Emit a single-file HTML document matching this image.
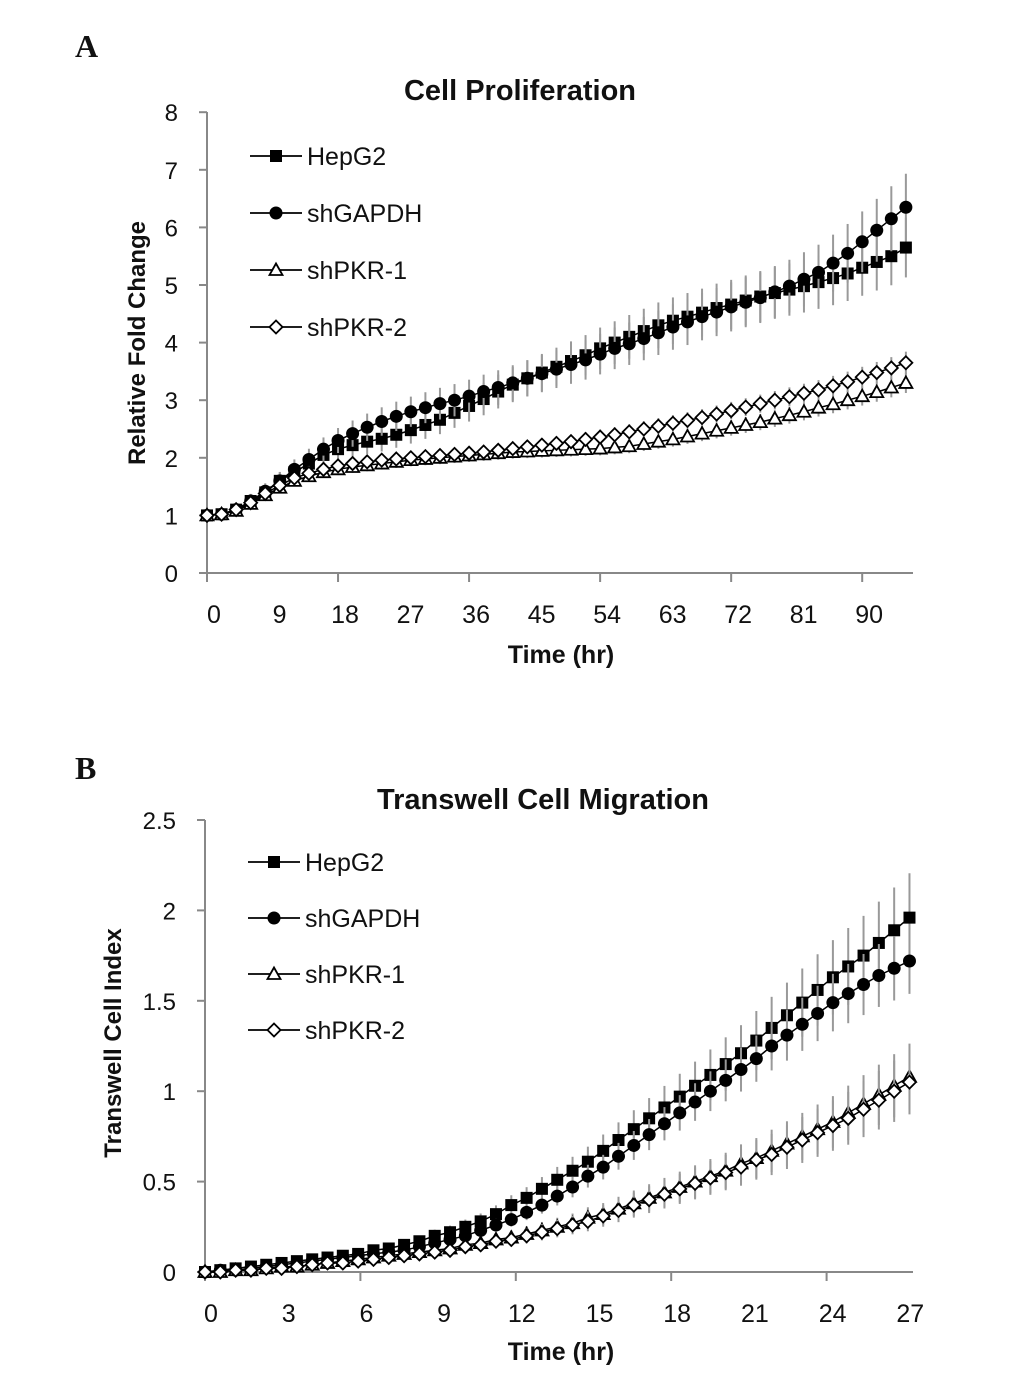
<!DOCTYPE html>
<html><head><meta charset="utf-8"><style>
body{margin:0;background:#fff}
svg text{font-family:"Liberation Sans",sans-serif;fill:#111}
</style></head><body>
<svg id="s" width="1033" height="1391" xmlns="http://www.w3.org/2000/svg">
<text x="75" y="57" style="font-family:'Liberation Serif',serif;font-weight:bold;font-size:32px">A</text>
<text x="75" y="779" style="font-family:'Liberation Serif',serif;font-weight:bold;font-size:32px">B</text>
<text x="520" y="100" text-anchor="middle" font-weight="bold" font-size="29">Cell Proliferation</text>
<text x="543" y="809" text-anchor="middle" font-weight="bold" font-size="29">Transwell Cell Migration</text>
<text transform="translate(145,343) rotate(-90)" text-anchor="middle" font-weight="bold" font-size="24">Relative Fold Change</text>
<text transform="translate(121,1043) rotate(-90)" text-anchor="middle" font-weight="bold" font-size="24">Transwell Cell Index</text>
<text x="561" y="663" text-anchor="middle" font-weight="bold" font-size="25">Time (hr)</text>
<text x="561" y="1360" text-anchor="middle" font-weight="bold" font-size="25">Time (hr)</text>
<g id="ga"></g>
<g id="gb"></g>
</svg>
<script>
const seriesNames=["HepG2","shGAPDH","shPKR-1","shPKR-2"];
const markers=["square","circle","triangle","diamond"];
const aYTicks=[0,1,2,3,4,5,6,7,8];
const aXTicks=[0,9,18,27,36,45,54,63,72,81,90];
const aHep=[1.0,1.02,1.1,1.25,1.4,1.6,1.75,1.9,2.05,2.15,2.22,2.28,2.33,2.4,2.48,2.57,2.66,2.78,2.9,3.02,3.15,3.27,3.38,3.48,3.58,3.68,3.78,3.9,4.0,4.1,4.2,4.3,4.38,4.45,4.52,4.6,4.66,4.73,4.8,4.86,4.92,4.98,5.05,5.12,5.2,5.3,5.4,5.5,5.65];
const aGap=[1.0,1.02,1.1,1.25,1.42,1.6,1.8,1.97,2.15,2.3,2.42,2.53,2.63,2.72,2.8,2.87,2.94,3.0,3.07,3.15,3.22,3.3,3.38,3.46,3.54,3.62,3.7,3.8,3.9,3.98,4.07,4.17,4.27,4.36,4.45,4.53,4.62,4.7,4.78,4.88,4.98,5.1,5.22,5.38,5.55,5.75,5.95,6.15,6.35];
const aPkr1=[1.0,1.02,1.08,1.2,1.35,1.48,1.6,1.68,1.75,1.8,1.84,1.87,1.9,1.93,1.96,1.98,2.0,2.02,2.04,2.06,2.08,2.1,2.11,2.12,2.13,2.14,2.15,2.16,2.18,2.2,2.24,2.28,2.32,2.37,2.42,2.47,2.52,2.57,2.62,2.68,2.74,2.8,2.87,2.93,3.0,3.07,3.14,3.22,3.3];
const aPkr2=[1.0,1.02,1.1,1.22,1.38,1.52,1.65,1.73,1.8,1.86,1.9,1.93,1.96,1.98,2.0,2.02,2.04,2.06,2.08,2.1,2.13,2.16,2.19,2.22,2.25,2.28,2.32,2.36,2.4,2.45,2.5,2.55,2.6,2.65,2.7,2.76,2.82,2.88,2.94,3.0,3.06,3.12,3.18,3.25,3.32,3.4,3.48,3.56,3.65];
const aStep=2;
const bYTicks=[0,0.5,1,1.5,2,2.5];
const bYLabels=["0","0.5","1","1.5","2","2.5"];
const bXTicks=[0,3,6,9,12,15,18,21,24,27];
const bHep=[0,.01,.02,.03,.04,.05,.06,.07,.08,.09,.1,.12,.13,.15,.17,.2,.22,.25,.28,.32,.37,.41,.46,.51,.56,.61,.67,.73,.79,.85,.91,.97,1.03,1.09,1.15,1.21,1.28,1.35,1.42,1.49,1.56,1.63,1.69,1.75,1.82,1.89,1.96];
const bGap=[0,.01,.01,.02,.03,.04,.05,.06,.07,.08,.09,.1,.11,.12,.14,.16,.18,.2,.23,.26,.29,.33,.37,.42,.47,.53,.58,.64,.7,.76,.82,.88,.94,1.0,1.06,1.12,1.18,1.25,1.31,1.37,1.43,1.49,1.54,1.59,1.64,1.68,1.72];
const bPkr1=[0,0,.01,.01,.02,.03,.03,.04,.05,.06,.07,.08,.09,.1,.11,.12,.13,.15,.16,.18,.19,.21,.23,.25,.27,.3,.32,.35,.38,.41,.44,.47,.5,.53,.56,.6,.63,.67,.71,.75,.79,.83,.88,.93,.98,1.03,1.08];
const bPkr2=[0,0,.01,.01,.02,.02,.03,.04,.05,.05,.06,.07,.08,.09,.1,.11,.12,.14,.15,.17,.18,.2,.22,.24,.26,.28,.31,.34,.37,.4,.43,.46,.49,.52,.55,.58,.62,.65,.69,.73,.77,.81,.85,.9,.95,1.0,1.05];
const errFracA=[0.09,0.09,0.05,0.05];
const errFracB=[0.12,0.1,0.16,0.16];

const NS="http://www.w3.org/2000/svg";
function mk(p,tag,at){const e=document.createElementNS(NS,tag);for(const k in at)e.setAttribute(k,at[k]);p.appendChild(e);return e;}
function marker(g,type,x,y){let e;
 if(type==="square"){e=mk(g,"rect",{x:x-6,y:y-6,width:12,height:12,fill:"#000"});}
 else if(type==="circle"){e=mk(g,"circle",{cx:x,cy:y,r:6.5,fill:"#000"});}
 else if(type==="triangle"){e=mk(g,"polygon",{points:`${x},${y-6.5} ${x+6.5},${y+5} ${x-6.5},${y+5}`,fill:"#fff",stroke:"#000","stroke-width":1.8});}
 else {e=mk(g,"polygon",{points:`${x},${y-6.5} ${x+6.5},${y} ${x},${y+6.5} ${x-6.5},${y}`,fill:"#fff",stroke:"#000","stroke-width":1.8});}
 
 
}
function chart(g,o){
 const X=v=>o.x0+v*o.px, Y=v=>o.y0-(v-0)*o.py;
 mk(g,"line",{x1:o.x0,y1:o.yTop,x2:o.x0,y2:o.y0,stroke:"#888","stroke-width":2});
 mk(g,"line",{x1:o.x0,y1:o.y0,x2:o.xEnd,y2:o.y0,stroke:"#888","stroke-width":2});
 o.yTicks.forEach((v,i)=>{mk(g,"line",{x1:o.x0-8,y1:Y(v),x2:o.x0,y2:Y(v),stroke:"#888","stroke-width":2});
  const t=mk(g,"text",{x:o.x0-29,y:Y(v)+9,"text-anchor":"end","font-size":24});t.textContent=o.yLabels?o.yLabels[i]:v;
  });
 o.xTicks.forEach((v,i)=>{if(i%o.tickEvery===0)mk(g,"line",{x1:X(v),y1:o.y0,x2:X(v),y2:o.y0+9,stroke:"#888","stroke-width":2});
  const t=mk(g,"text",{x:X(v)+o.lblOff,y:o.y0+50,"text-anchor":"middle","font-size":25});t.textContent=v;
  });
 o.series.forEach((s,si)=>{
  const sg=mk(g,"g",{});
  
  
  const step=o.step?o.step:o.tMax/(s.length-1);
  s.forEach((v,i)=>{const e=v*o.errFrac[si]+0.01;mk(sg,"line",{x1:X(i*step),y1:Y(v+e),x2:X(i*step),y2:Y(Math.max(0,v-e)),stroke:"#999","stroke-width":2});});
  mk(sg,"polyline",{points:s.map((v,i)=>X(i*step)+","+Y(v)).join(" "),fill:"none",stroke:"#000","stroke-width":1.5});
  s.forEach((v,i)=>marker(sg,markers[si],X(i*step),Y(v)));
 });
 seriesNames.forEach((n,i)=>{const y=o.legY+i*o.legDy;
  const lg=mk(g,"g",{});
  mk(lg,"line",{x1:o.legX,y1:y,x2:o.legX+52,y2:y,stroke:"#000","stroke-width":1.8});
  marker(lg,markers[i],o.legX+26,y);
  const t=mk(lg,"text",{x:o.legX+57,y:y+9,"font-size":25});t.textContent=n;});
}
chart(document.getElementById("ga"),{x0:207,y0:573,px:7.28,py:57.6,yTop:112,xEnd:913,yTicks:aYTicks,xTicks:aXTicks,tickEvery:2,lblOff:7,series:[aHep,aGap,aPkr1,aPkr2],step:aStep,errFrac:errFracA,legX:250,legY:156,legDy:57});
chart(document.getElementById("gb"),{x0:205,y0:1272,px:25.9,py:180.8,yTop:820,xEnd:913,yTicks:bYTicks,yLabels:bYLabels,xTicks:bXTicks,tickEvery:2,lblOff:6,series:[bHep,bGap,bPkr1,bPkr2],tMax:27.2,errFrac:errFracB,legX:248,legY:862,legDy:56});
</script>
</body></html>
